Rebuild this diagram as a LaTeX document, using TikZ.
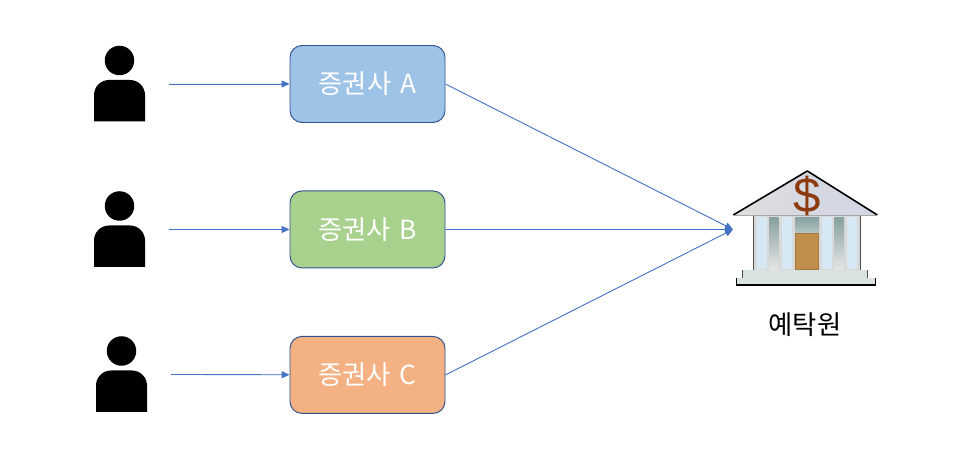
\documentclass[tikz,border=0pt]{standalone}
\usepackage{fontspec}
\usepackage{xcolor}
\usepackage{tikz}
\usetikzlibrary{positioning,arrows.meta}
\newfontfamily\krfont[WordSpace=1.5]{Noto Sans CJK KR}
\newfontfamily\symfont{Liberation Sans}
\definecolor{linecolor}{RGB}{68,114,196}
\definecolor{edgecolor}{RGB}{47,82,143}
\definecolor{firmA}{RGB}{157,195,230}
\definecolor{firmB}{RGB}{169,209,142}
\definecolor{firmC}{RGB}{244,177,131}
\definecolor{dollarcolor}{RGB}{140,58,14}
\definecolor{doorcolor}{RGB}{192,142,75}
\definecolor{glasscolor}{RGB}{214,232,244}
\definecolor{shadecolor}{RGB}{135,160,160}
\definecolor{stepcolor}{RGB}{216,226,224}
\definecolor{roofleft}{RGB}{222,222,222}
\definecolor{roofright}{RGB}{208,213,230}
\tikzset{
  firm/.style={
    rectangle,
    rounded corners=0.24cm,
    draw=edgecolor,
    line width=0.55pt,
    minimum width=3.1cm,
    minimum height=1.54cm,
    inner sep=0pt,
    text=white,
    font=\krfont\fontsize{15}{17}\selectfont
  },
  arrow/.style={
    -{Triangle[length=4.5pt,width=4pt]},
    line width=0.5pt,
    draw=linecolor,
    fill=linecolor
  },
  person/.pic={
    \fill (0,0.47) circle (0.295);
    \fill (-0.51,-0.75) -- (-0.51,-0.22) arc (180:90:0.3) -- (0.21,0.08) arc (90:0:0.3) -- (0.51,-0.75) -- cycle;
    \coordinate (-out) at (0.99,0);
  },
  bank/.pic={
    \begin{scope}[x=0.02cm,y=-0.02cm]
      % walls and columns
      \fill[gray!30] (20.3,-13.5) rectangle (127,40.5);
      \draw[black!70, line width=0.6pt] (20.3,-13.5) -- (20.3,40.5) (127,-13.5) -- (127,40.5);
      \foreach \xa/\xb in {23.7/33.7, 48.7/58.7, 88.7/98.7, 114.3/124.3}
        \fill[glasscolor] (\xa,-12) rectangle (\xb,40);
      \foreach \xa/\xb in {36.3/45.3, 101.3/111}
        \shade[top color=shadecolor, bottom color=gray!20] (\xa,-12) rectangle (\xb,40);
      % door
      \shade[top color=shadecolor, bottom color=shadecolor!60] (62,-12) rectangle (86,4);
      \fill[doorcolor, draw=doorcolor!85!black, line width=0.7pt] (62.5,4) rectangle (85.5,40);
      % steps
      \fill[stepcolor] (9.7,41) rectangle (134.7,48.2);
      \draw[black!70, line width=0.5pt] (9.7,48.2) -- (9.7,41);
      \draw[black!70, line width=0.5pt] (134.7,48.2) -- (134.7,41);
      \fill[stepcolor] (3.7,48.2) rectangle (142.7,55.5);
      \draw[black, line width=0.7pt] (3.7,48.2) -- (3.7,55.5) -- (142.7,55.5) -- (142.7,48.2);
      % roof
      \shade[left color=roofleft, right color=roofright] (0.3,-14.5) -- (74.3,-58.5) -- (144.3,-14.5) -- cycle;
      \draw[black, line width=0.9pt, line join=round] (0.3,-14.5) -- (74.3,-58.5) -- (144.3,-14.5);
      \draw[gray!70, line width=0.4pt] (0.3,-14.5) -- (144.3,-14.5);
      \node[text=dollarcolor, inner sep=0pt, font=\symfont\fontsize{28}{28}\selectfont] (dollar) at (74.3,-33.5) {\$};
    \end{scope}
  }
}
\begin{document}
\begin{tikzpicture}
  \useasboundingbox (0,0) rectangle (19.56,9.16);

  % Firms in a column
  \node[firm, fill=firmA] (firma) at (7.35,7.48) {증권사 A};
  \node[firm, fill=firmB, below=1.35cm of firma] (firmb) {증권사 B};
  \node[firm, fill=firmC, below=1.35cm of firmb] (firmc) {증권사 C};

  % Customers
  \pic (pa) at (2.39,7.48) {person};
  \pic (pb) at (2.39,4.57) {person};
  \pic (pc) at (2.43,1.67) {person};

  % Depository
  \coordinate (tip) at (14.66,4.57);
  \pic (dep) at (tip) {bank};
  \node[font=\krfont\fontsize{15}{17}\selectfont, inner sep=0pt] (deplabel) at (16.1,2.67) {예탁원};

  % Orders
  \draw[arrow] (pa-out) -- (firma);
  \draw[arrow] (pb-out) -- (firmb);
  \draw[arrow] (pc-out) -- (firmc);

  % To the depository
  \draw[arrow] (firma.east) -- (tip);
  \draw[arrow] (firmb.east) -- (tip);
  \draw[arrow] (firmc.east) -- (tip);

\end{tikzpicture}
\end{document}
